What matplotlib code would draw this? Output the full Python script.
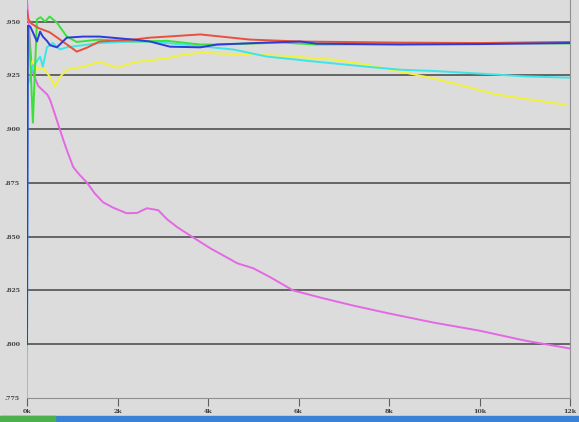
import matplotlib
matplotlib.use("Agg")
import matplotlib.pyplot as plt
from matplotlib.patches import Rectangle

# x in thousands, y = accuracy
red_x = [0, 0.03, 0.1, 0.25, 0.5, 0.73, 0.95, 1.1, 1.33, 1.6, 2.35, 2.72, 3.1, 3.83, 4.93, 6.04, 8.25, 10, 12]
red_y = [.955, .951, .949, .947, .945, .9416, .9383, .936, .9379, .9407, .9416, .9425, .943, .944, .9416, .9407, .9402, .9400, .9405]

green_x = [0, 0.04, 0.13, 0.22, 0.3, 0.4, 0.5, 0.66, 0.88, 1.1, 1.6, 2.35, 3.1, 3.83, 4.2, 5.66, 6.4, 8.25, 10, 12]
green_y = [.930, .948, .903, .951, .952, .950, .9523, .9495, .943, .9405, .9416, .9407, .941, .9393, .9393, .9402, .9393, .9395, .9400, .9398]

blue_x = [0, 0.02, 0.07, 0.13, 0.22, 0.29, 0.35, 0.44, 0.51, 0.66, 0.88, 1.24, 1.6, 2.35, 2.72, 3.16, 3.83, 4.2, 5.3, 6.04, 6.4, 8.25, 10, 12]
blue_y = [.800, .948, .9477, .945, .9407, .9453, .943, .941, .939, .938, .9425, .943, .943, .9416, .9407, .9383, .938, .9393, .9402, .9407, .9397, .9393, .9395, .9400]

cyan_x = [0, 0.01, 0.13, 0.29, 0.35, 0.44, 0.57, 0.73, 0.88, 1.6, 2.35, 2.72, 3.45, 4.56, 5.3, 6.4, 7.5, 8.25, 9.0, 10.4, 11.0, 12.0]
cyan_y = [.775, .920, .929, .9337, .929, .938, .940, .937, .938, .940, .9407, .9407, .9393, .937, .9337, .9313, .929, .9276, .927, .9253, .9245, .9239]

yellow_x = [0, 0.13, 0.22, 0.35, 0.51, 0.62, 0.73, 0.88, 1.24, 1.6, 2.0, 2.35, 3.1, 3.45, 3.83, 4.93, 5.66, 6.77, 7.5, 8.25, 9.0, 10.4, 11.9]
yellow_y = [.925, .932, .9276, .9285, .9243, .9197, .9243, .9276, .929, .9313, .9285, .931, .933, .9346, .9355, .9346, .9341, .9323, .930, .9267, .9235, .916, .9113]

magenta_x = [0, 0.05, 0.1, 0.15, 0.25, 0.35, 0.45, 0.51, 0.6, 0.73, 0.85, 1.02, 1.15, 1.33, 1.5, 1.68, 1.9, 2.2, 2.43,
             2.65, 2.9, 3.1, 3.32, 3.6, 4.05, 4.65, 5.0, 5.38, 5.88, 6.48, 7.2, 8.0, 9.0, 10.0, 11.0, 12.0]
magenta_y = [.960, .945, .930, .925, .920, .918, .916, .9136, .908, .8996, .892, .8824, .879, .875, .870, .866, .8635,
             .8609, .861, .8632, .8623, .858, .8544, .8506, .8446, .8376, .8353, .8311, .825, .8217, .818, .8143, .810,
             .8063, .8017, .798]

y_ticks = [.775, .800, .825, .850, .875, .900, .925, .950]
x_ticks = [0, 2, 4, 6, 8, 10, 12]

bg = "#dcdcdc"
fig = plt.figure(figsize=(5.79, 4.22), dpi=100, facecolor=bg)
ax = fig.add_axes([27 / 579, 1 - 398 / 422, 543 / 579, 398 / 422])
ax.set_facecolor(bg)

for yv in y_ticks[1:]:
    ax.axhline(yv, color="#505050", lw=1.2, zorder=1)

series = [
    (magenta_x, magenta_y, "#e468e4"),
    (yellow_x, yellow_y, "#f2f23c"),
    (cyan_x, cyan_y, "#3ce6e6"),
    (green_x, green_y, "#3ce03c"),
    (red_x, red_y, "#e8503c"),
    (blue_x, blue_y, "#2c3cd8"),
]
for xs, ys, c in series:
    ax.plot(xs, ys, color=c, lw=1.4, zorder=3)

ax.set_xlim(0, 12)
ax.set_ylim(0.775, 0.960)
ax.set_yticks(y_ticks)
ax.set_yticklabels([("%.3f" % v)[1:] for v in y_ticks])
ax.set_xticks(x_ticks)
ax.set_xticklabels(["%dk" % v for v in x_ticks])
ax.tick_params(axis="y", length=0, pad=5, labelsize=4.5, labelcolor="#404040")
ax.tick_params(axis="x", length=6, width=0.8, color="#606060", pad=2, labelsize=4.5, labelcolor="#404040")
for lab in ax.get_xticklabels() + ax.get_yticklabels():
    lab.set_family("serif")
    lab.set_fontweight("bold")

for s in ["top", "left"]:
    ax.spines[s].set_visible(False)
ax.spines["bottom"].set_color("#909090")
ax.spines["right"].set_color("#909090")

# taskbar strip at the bottom of the screenshot
fig.patches.append(Rectangle((0, 0), 1, 6 / 422, transform=fig.transFigure, color="#3a82d8", zorder=0))
fig.patches.append(Rectangle((0, 0), 55 / 579, 6 / 422, transform=fig.transFigure, color="#4cb04c", zorder=0))

fig.savefig("out.png", dpi=100, facecolor=bg)
